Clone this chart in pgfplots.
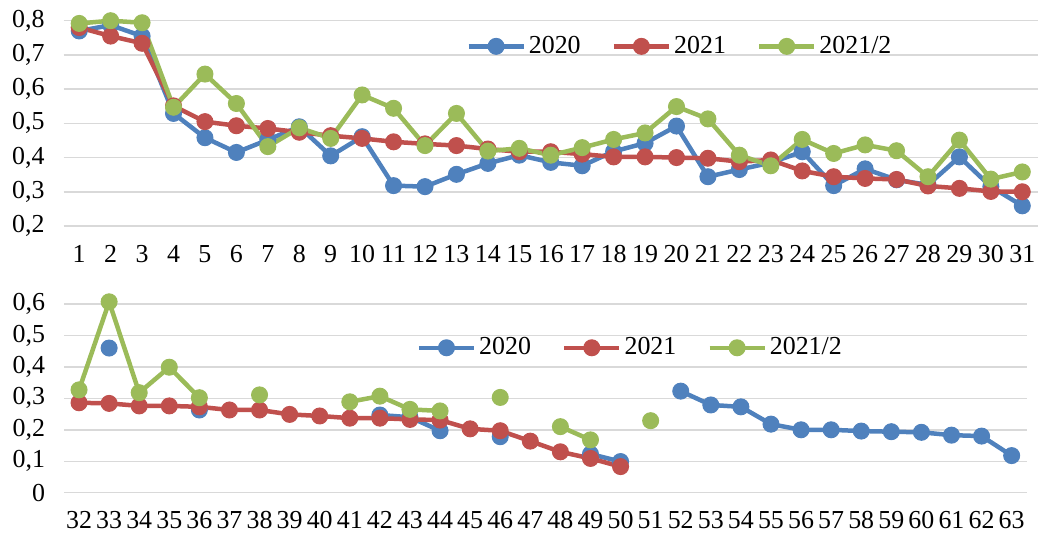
\documentclass[border=0pt]{standalone}
\usepackage{fontspec}
\setmainfont{Liberation Serif}
\usepackage{pgfplots}
\pgfplotsset{compat=1.18}

\definecolor{cA}{HTML}{4F81BD}
\definecolor{cB}{HTML}{C0504D}
\definecolor{cC}{HTML}{9BBB59}
\definecolor{gridgray}{HTML}{D9D9D9}

\pgfplotstableread{
x b r g
1 0.770 0.780 0.792
2 0.787 0.755 0.800
3 0.755 0.734 0.794
4 0.529 0.551 0.547
5 0.458 0.505 0.644
6 0.415 0.493 0.558
7 0.452 0.485 0.432
8 0.490 0.474 0.487
9 0.405 0.464 0.456
10 0.461 0.456 0.583
11 0.318 0.446 0.544
12 0.315 0.440 0.435
13 0.351 0.435 0.529
14 0.383 0.425 0.419
15 0.407 0.417 0.427
16 0.386 0.417 0.407
17 0.376 0.410 0.429
18 0.418 0.402 0.453
19 0.442 0.402 0.472
20 0.492 0.400 0.549
21 0.344 0.398 0.513
22 0.365 0.388 0.407
23 0.385 0.393 0.376
24 0.417 0.361 0.453
25 0.318 0.344 0.412
26 0.367 0.339 0.437
27 0.335 0.336 0.420
28 0.320 0.317 0.344
29 0.402 0.310 0.451
30 0.315 0.301 0.337
31 0.259 0.300 0.358
}\toptable

\pgfplotstableread{
x b r g
32 nan 0.286 0.327
33 0.460 0.284 0.607
34 nan 0.276 0.318
35 nan 0.276 0.399
36 0.263 0.273 0.302
37 nan 0.263 nan
38 nan 0.263 0.311
39 nan 0.249 nan
40 nan 0.244 nan
41 nan 0.237 0.289
42 0.247 0.237 0.307
43 0.240 0.233 0.265
44 0.197 0.231 0.260
45 nan 0.203 nan
46 0.178 0.197 0.303
47 nan 0.164 nan
48 nan 0.130 0.210
49 0.123 0.109 0.168
50 0.099 0.083 nan
51 nan nan 0.229
52 0.323 nan nan
53 0.279 nan nan
54 0.273 nan nan
55 0.218 nan nan
56 0.200 nan nan
57 0.200 nan nan
58 0.196 nan nan
59 0.194 nan nan
60 0.192 nan nan
61 0.183 nan nan
62 0.180 nan nan
63 0.118 nan nan
}\bottable

\pgfplotsset{
  panel/.style={
    scale only axis,
    axis line style={draw=none},
    tick style={draw=none},
    major tick length=0pt,
    ymajorgrids,
    grid style={line width=0.75bp, gridgray},
    tick label style={font=\fontsize{13}{15}\selectfont},
    /pgf/number format/assume math mode=true,
    /pgf/number format/fixed,
    /pgf/number format/precision=1,
    /pgf/number format/use comma,
    xticklabel style={yshift=-6bp},
    yticklabel style={xshift=-6bp},
    unbounded coords=jump,
    clip=false,
    legend columns=3,
    legend cell align=left,
    legend style={draw=none, fill=none, inner sep=0pt,
      font=\fontsize{13}{15}\selectfont,
      nodes={inner xsep=1.5bp},
      /tikz/every even column/.append style={column sep=14bp}},
    legend image code/.code={
      \draw[mark repeat=2, mark phase=2, #1]
        plot coordinates {(0bp,0bp) (13.75bp,0bp) (27.5bp,0bp)};},
  },
  ser/.style={line width=2.25bp, color=#1, mark=*, mark size=4bp,
    mark options={solid, fill=#1, line width=0.5bp}},
}

\begin{document}
\begin{tikzpicture}
\useasboundingbox (0,0) rectangle (519bp,-268bp);

\begin{axis}[panel,
  at={(31.75bp,-10.35bp)}, anchor=north west,
  width=487.25bp, height=102.65bp,
  xmin=0.5, xmax=31.5, ymin=0.2, ymax=0.8,
  xtick={1,...,31},
  ytick={0.2,0.3,0.4,0.5,0.6,0.7,0.8},
  legend style={at={(0.413,0.875)}, anchor=west},
]
\addplot[ser=cA] table[x=x, y=b] {\toptable};
\addplot[ser=cB] table[x=x, y=r] {\toptable};
\addplot[ser=cC] table[x=x, y=g] {\toptable};
\legend{2020, 2021, 2021/2}
\end{axis}

\begin{axis}[panel,
  at={(32bp,-152bp)}, anchor=north west,
  width=481.35bp, height=94.35bp,
  xmin=31.5, xmax=63.5, ymin=0, ymax=0.6,
  xtick={32,...,63},
  ytick={0,0.1,0.2,0.3,0.4,0.5,0.6},
  legend style={at={(0.366,0.768)}, anchor=west},
]
\addplot[ser=cA] table[x=x, y=b] {\bottable};
\addplot[ser=cB] table[x=x, y=r] {\bottable};
\addplot[ser=cC] table[x=x, y=g] {\bottable};
\legend{2020, 2021, 2021/2}
\end{axis}
\end{tikzpicture}
\end{document}
